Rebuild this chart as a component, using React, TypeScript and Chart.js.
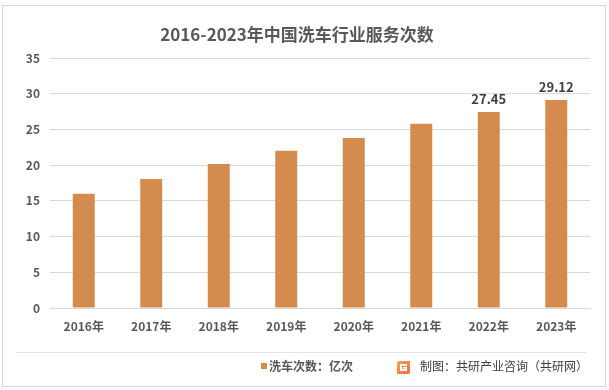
import React, { useEffect, useRef } from 'react';
import { Chart, registerables } from 'chart.js';

Chart.register(...registerables);

const titleText = '2016-2023年中国洗车行业服务次数';
const categories = ['2016年', '2017年', '2018年', '2019年', '2020年', '2021年', '2022年', '2023年'];
const washCounts = [16.0, 18.05, 20.15, 22.0, 23.8, 25.8, 27.45, 29.12];
const labelledIndices = [6, 7];
const seriesName = '洗车次数：亿次';
const sourceText = '制图：共研产业咨询（共研网）';
const yMin = 0;
const yMax = 35;
const yStep = 5;

const FONT = "'Noto Sans CJK SC', 'Noto Sans', sans-serif";
const BAR = '#D38C4E';
const TEXT = '#595959';
const DARK = '#404040';
const GRID = '#D9D9D9';

const decorPlugin = {
  id: 'decor',
  beforeDraw(chart: any) {
    const ctx = chart.ctx;
    ctx.save();
    ctx.fillStyle = '#ffffff';
    ctx.fillRect(0, 0, chart.width, chart.height);
    ctx.strokeStyle = GRID;
    ctx.lineWidth = 1;
    ctx.strokeRect(2.5, 5.5, 603, 381);
    ctx.restore();
  },
  afterDraw(chart: any) {
    const ctx = chart.ctx;
    ctx.save();
    // title
    ctx.fillStyle = TEXT;
    ctx.font = `bold 17px ${FONT}`;
    ctx.textAlign = 'center';
    ctx.textBaseline = 'middle';
    ctx.fillText(titleText, 297, 35);
    // separator
    ctx.strokeStyle = '#E3E3E3';
    ctx.beginPath();
    ctx.moveTo(16, 352.5);
    ctx.lineTo(587, 352.5);
    ctx.stroke();
    // legend
    ctx.fillStyle = BAR;
    ctx.fillRect(261, 363, 6, 6);
    ctx.fillStyle = TEXT;
    ctx.font = `bold 12px ${FONT}`;
    ctx.textAlign = 'left';
    ctx.textBaseline = 'middle';
    ctx.fillText(seriesName, 269, 366);
    // logo
    const g = ctx.createLinearGradient(397, 361, 410, 374);
    g.addColorStop(0, '#F7A35C');
    g.addColorStop(1, '#F06A3A');
    ctx.fillStyle = g;
    ctx.beginPath();
    ctx.moveTo(399, 361);
    ctx.lineTo(410, 361);
    ctx.lineTo(410, 372);
    ctx.quadraticCurveTo(410, 374, 408, 374);
    ctx.lineTo(397, 374);
    ctx.lineTo(397, 363);
    ctx.quadraticCurveTo(397, 361, 399, 361);
    ctx.fill();
    ctx.fillStyle = '#ffffff';
    ctx.fillRect(400, 364, 7, 2);
    ctx.fillRect(400, 364, 2, 7);
    ctx.fillRect(400, 369, 7, 2);
    ctx.fillRect(405, 367, 2, 4);
    ctx.fillRect(403, 367, 4, 1.5);
    // source
    ctx.fillStyle = DARK;
    ctx.font = `12px ${FONT}`;
    ctx.fillText(sourceText, 420, 366);
    ctx.restore();
  },
  afterDatasetsDraw(chart: any) {
    const ctx = chart.ctx;
    const meta = chart.getDatasetMeta(0);
    ctx.save();
    ctx.fillStyle = DARK;
    ctx.font = `bold 13px ${FONT}`;
    ctx.textAlign = 'center';
    ctx.textBaseline = 'bottom';
    labelledIndices.forEach((i) => {
      const el = meta.data[i];
      ctx.fillText(washCounts[i].toFixed(2), el.x, el.y - 6);
    });
    ctx.restore();
  },
};

export default function App() {
  const ref = useRef<HTMLCanvasElement>(null);
  useEffect(() => {
    if (!ref.current) return;
    const chart = new Chart(ref.current, {
      type: 'bar',
      data: {
        labels: categories,
        datasets: [
          {
            label: seriesName,
            data: washCounts,
            backgroundColor: BAR,
            barPercentage: 0.326,
            categoryPercentage: 1,
          },
        ],
      },
      options: {
        animation: false,
        responsive: true,
        maintainAspectRatio: false,
        layout: { padding: { left: 0, right: 19, top: 58, bottom: 52 } },
        plugins: {
          legend: { display: false },
          title: { display: false },
          tooltip: { enabled: false },
        },
        scales: {
          x: {
            afterFit: (s: any) => {
              s.height = 30;
            },
            grid: { display: false, drawTicks: false },
            border: { display: true, color: GRID },
            ticks: { color: TEXT, font: { family: FONT, size: 12, weight: 'bold' }, padding: 11 },
          },
          y: {
            min: yMin,
            max: yMax,
            afterFit: (s: any) => {
              s.width = 50;
            },
            grid: { color: GRID, drawTicks: false },
            border: { display: false },
            ticks: { stepSize: yStep, color: TEXT, font: { family: FONT, size: 12, weight: 'bold' }, padding: 10 },
          },
        },
      },
      plugins: [decorPlugin],
    });
    return () => chart.destroy();
  }, []);
  return (
    <div style={{ position: 'fixed', left: 0, top: 0, width: 609, height: 390, background: '#fff' }}>
      <canvas ref={ref} />
    </div>
  );
}
